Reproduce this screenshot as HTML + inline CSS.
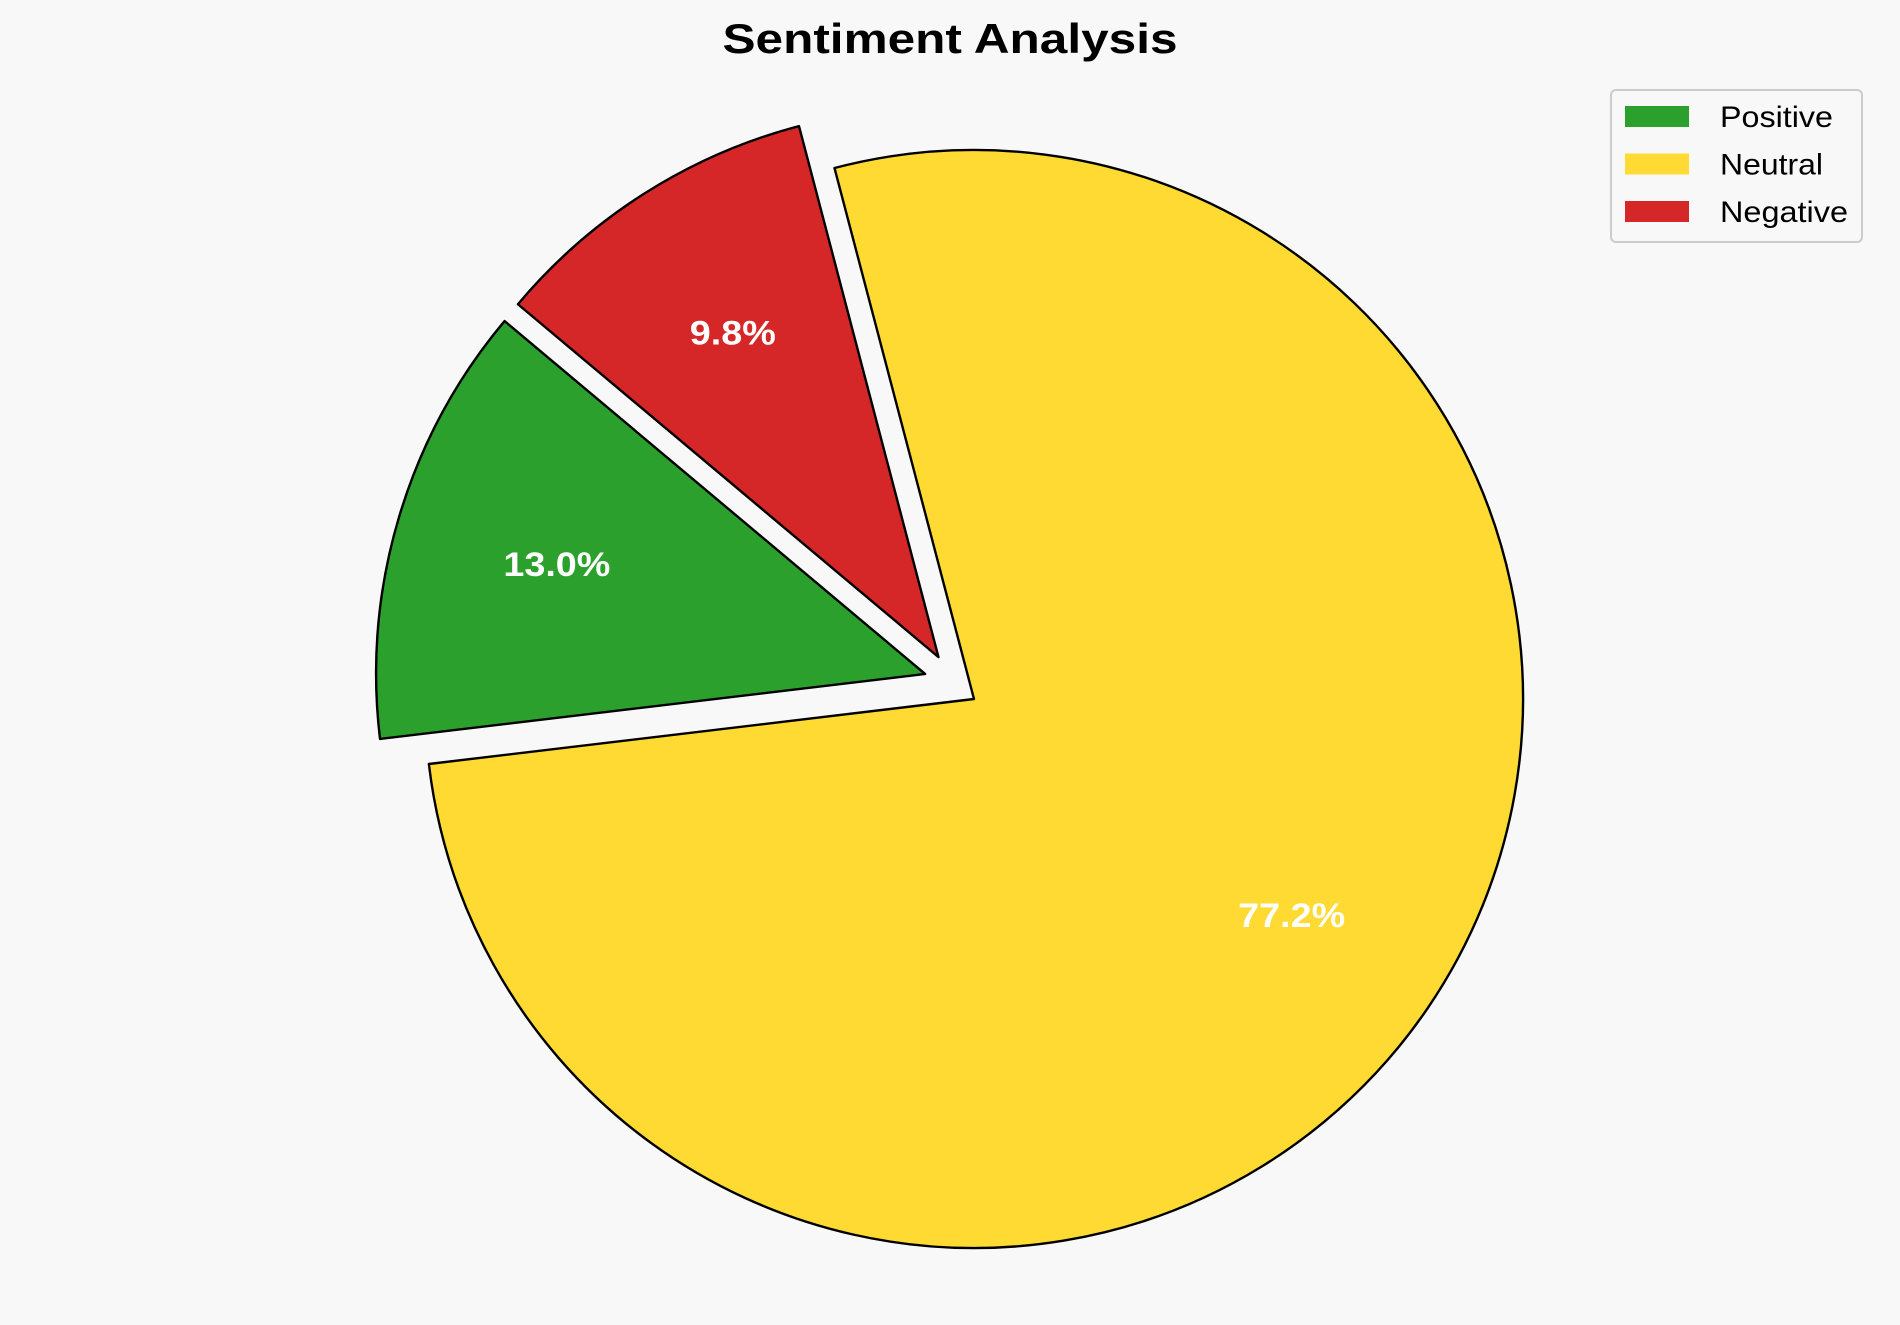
<!DOCTYPE html>
<html><head><meta charset="utf-8"><style>
html,body{margin:0;padding:0;background:#f8f8f8;}
svg{display:block;font-family:"Liberation Sans",Arial,sans-serif;}
</style></head><body>
<svg id="chart" width="1900" height="1325" viewBox="0 0 1900 1325">
<rect width="1900" height="1325" fill="#f8f8f8"/>
<text x="950" y="53" text-anchor="middle" font-size="42" font-weight="bold" fill="#000" textLength="455" lengthAdjust="spacingAndGlyphs">Sentiment Analysis</text>
<g id="slices"></g>
<g id="legend">
<rect x="1611" y="90" width="251" height="152" rx="5" fill="#f8f8f8" stroke="#ccc" stroke-width="2"/>
</g>
</svg>
<script>
const categories = ["Positive", "Neutral", "Negative"];
const values = [13.0, 77.2, 9.8];
const explodes = [0.1, 0, 0.1];
const colors = ["#2ca02c", "#ffda33", "#d62728"];
const startAngle = 140;
const cx = 974, cy = 699, R = 549, pctDist = 0.7;
const NS = "http://www.w3.org/2000/svg";
const g = document.getElementById('slices');
const total = values.reduce((a,b)=>a+b,0);
const pctWidths = [107, 107, 86];
const legendWidths = [113, 103, 128];
let a0 = startAngle;
function pt(x,y,deg,r){const t=deg*Math.PI/180;return [x+r*Math.cos(t), y-r*Math.sin(t)];}
values.forEach((v,i)=>{
  const span = v/total*360, a1 = a0+span, mid = a0+span/2;
  const diff = (((startAngle - mid) % 360) + 540) % 360 - 180;
  const dir = mid + 0.45*diff;
  const [ox,oy] = pt(cx,cy,dir,explodes[i]*R);
  const [x0,y0] = pt(ox,oy,a0,R), [x1,y1] = pt(ox,oy,a1,R);
  const large = span>180?1:0;
  const p = document.createElementNS(NS,'path');
  p.setAttribute('d',`M${ox},${oy} L${x0},${y0} A${R},${R} 0 ${large} 0 ${x1},${y1} Z`);
  p.setAttribute('fill',colors[i]);
  p.setAttribute('stroke','#000');
  p.setAttribute('stroke-width','2.4');
  p.setAttribute('stroke-linejoin','round');
  
  
  g.appendChild(p);
  const [lx,ly] = pt(ox,oy,mid,R*pctDist);
  const t = document.createElementNS(NS,'text');
  t.setAttribute('x',lx - pctWidths[i]/2); t.setAttribute('y',ly+12);
  t.setAttribute('textLength',pctWidths[i]); t.setAttribute('lengthAdjust','spacingAndGlyphs');
  t.setAttribute('font-size','34'); t.setAttribute('font-weight','bold'); t.setAttribute('fill','#fff');
  t.textContent = v.toFixed(1)+'%';
  
  
  g.appendChild(t);
  a0 = a1;
});
const lg = document.getElementById('legend');
categories.forEach((c,i)=>{
  const y = 116 + i*47.5;
  const r = document.createElementNS(NS,'rect');
  r.setAttribute('x',1625); r.setAttribute('y',y-10); r.setAttribute('width',64); r.setAttribute('height',21);
  r.setAttribute('fill',colors[i]);
  
  
  lg.appendChild(r);
  const t = document.createElementNS(NS,'text');
  t.setAttribute('x',1720); t.setAttribute('y',y+11);
  t.setAttribute('font-size','30'); t.setAttribute('fill','#000');
  t.setAttribute('textLength',legendWidths[i]); t.setAttribute('lengthAdjust','spacingAndGlyphs');
  t.textContent = c;
  
  
  lg.appendChild(t);
});
</script>
</body></html>
